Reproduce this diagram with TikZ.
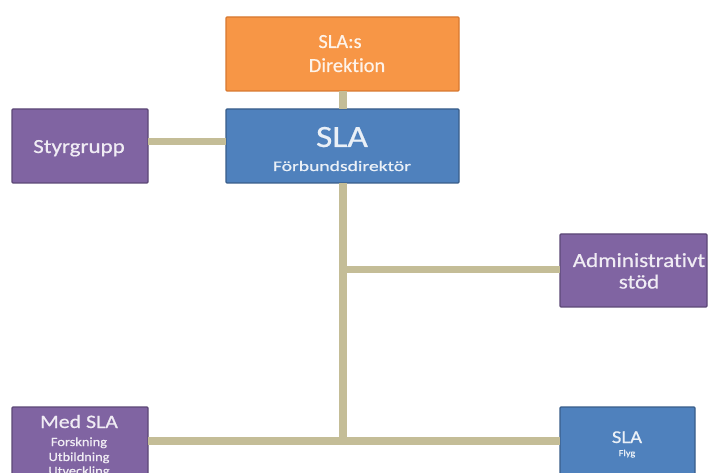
\documentclass[tikz,border=0pt]{standalone}
\usepackage{fontspec}
\setmainfont{Carlito}
\newfontfamily\wf[FakeStretch=1.15,FakeBold=0.6,Ligatures=NoCommon]{Carlito}
\newfontfamily\of[FakeStretch=1.02,FakeBold=0.6,Ligatures=NoCommon]{Carlito}
\newfontfamily\xf[FakeStretch=1.35,FakeBold=0.6,Ligatures=NoCommon]{Carlito}
\definecolor{orgfill}{HTML}{F79646}
\definecolor{orgdraw}{HTML}{D8782F}
\definecolor{bluefill}{HTML}{4F81BD}
\definecolor{bluedraw}{HTML}{385D8A}
\definecolor{purpfill}{HTML}{8064A2}
\definecolor{purpdraw}{HTML}{5C4776}
\definecolor{linkcol}{HTML}{C4BD97}
\begin{document}
\begin{tikzpicture}[x=1pt,y=-1pt,
  box/.style={draw, line width=1.3pt, rounded corners=1pt},
  obox/.style={box, fill=orgfill, draw=orgdraw},
  bbox/.style={box, fill=bluefill, draw=bluedraw},
  pbox/.style={box, fill=purpfill, draw=purpdraw},
  txt/.style={inner sep=0pt, anchor=base},
  otxt/.style={txt, text=white!88!orgfill},
  btxt/.style={txt, text=white!88!bluefill},
  ptxt/.style={txt, text=white!88!purpfill},
  link/.style={draw=linkcol, line width=7.5pt}]
\useasboundingbox (0,0) rectangle (710,473);
\clip (0,0) rectangle (710,473);
\fill[white] (0,0) rectangle (710,473);
% boxes
\path[obox] (226,17) rectangle (459,91);
\path[bbox] (226,109) rectangle (459,183);
\path[pbox] (12,109) rectangle (148,183);
\path[pbox] (560,234) rectangle (707,307);
\path[pbox] (12,407) rectangle (148,490);
\path[bbox] (560,407) rectangle (695,490);
% named anchor points
\coordinate (dirB) at (343,91);
\coordinate (slaT) at (343,109);
\coordinate (slaB) at (343,183);
\coordinate (slaL) at (226,141.5);
\coordinate (styR) at (148,141.5);
\coordinate (admL) at (560,269.5);
\coordinate (admJ) at (343,269.5);
\coordinate (trunkE) at (343,441);
\coordinate (medR) at (148,441);
\coordinate (flyL) at (560,441);
% connectors
\draw[link] (dirB) -- (slaT);
\draw[link] (styR) -- (slaL);
\draw[link] (slaB) -- (trunkE);
\draw[link] (admJ) -- (admL);
\draw[link] (medR) -- (flyL);
% texts
\node[otxt, font=\of\fontsize{20}{24}\selectfont] (dir1) at (340,48) {SLA:s};
\node[otxt, font=\of\fontsize{20}{24}\selectfont] (dir2) at (347,72) {Direktion};
\node[btxt, font=\wf\fontsize{31}{34}\selectfont] (sla) at (342,147) {SLA};
\node[btxt, font=\xf\fontsize{14.5}{17}\selectfont] (fd) at (342,171) {Förbundsdirektör};
\node[ptxt, font=\wf\fontsize{20}{24}\selectfont] (sty) at (79,153) {Styrgrupp};
\node[ptxt, font=\wf\fontsize{20}{24}\selectfont] (adm1) at (639,267) {Administrativt};
\node[ptxt, font=\wf\fontsize{20}{24}\selectfont] (adm2) at (639,288.5) {stöd};
\node[ptxt, font=\wf\fontsize{19}{22}\selectfont] (med) at (79,428) {Med SLA};
\node[ptxt, font=\wf\fontsize{12.5}{15}\selectfont] (med1) at (79,446) {Forskning};
\node[ptxt, font=\wf\fontsize{12.5}{15}\selectfont] (med2) at (79,461) {Utbildning};
\node[ptxt, font=\wf\fontsize{12.5}{15}\selectfont] (med3) at (79,475) {Utveckling};
\node[btxt, font=\wf\fontsize{18}{21}\selectfont] (fly1) at (627,443) {SLA};
\node[btxt, font=\wf\fontsize{9}{11}\selectfont] (fly2) at (627,456) {Flyg};
\end{tikzpicture}
\end{document}
